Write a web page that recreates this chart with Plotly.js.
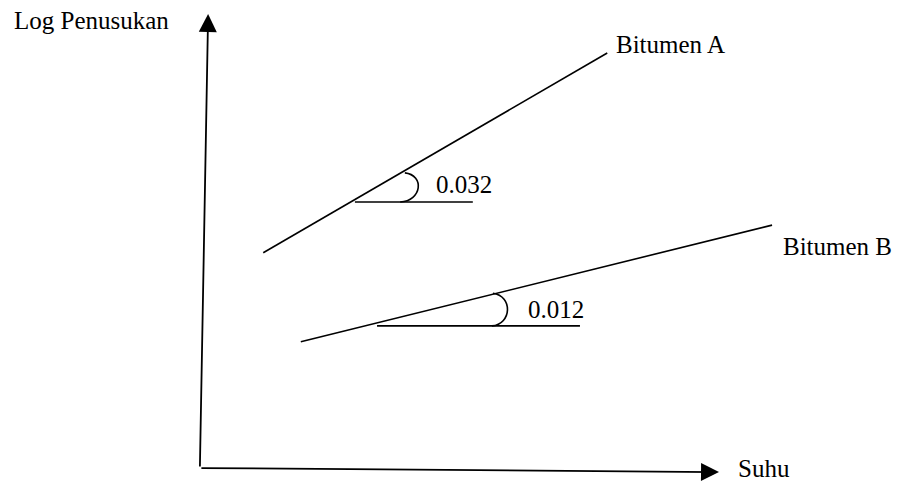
<!DOCTYPE html>
<html>
<head>
<meta charset="utf-8">
<script src="https://cdn.plot.ly/plotly-3.0.1.min.js"></script>
<style>html,body{margin:0;padding:0;background:#fff;}#chart{width:897px;height:483px;}</style>
</head>
<body>
<div id="chart"></div>
<script>
// Schematic data (arbitrary units: origin at axis corner, axes run 0..100)
const yAxisX = [-0.8, 0.8];
const yAxisY = [0, 100];
const xAxisX = [-0.8, 100];
const xAxisY = [0, -0.9];

const bitA_x = [11.5, 78.3];
const bitA_y = [47.4, 91.4];
const bitB_x = [18.8, 110.3];
const bitB_y = [27.8, 53.5];

const baseA_x = [29.3, 52.2];
const baseA_y = [58.6, 58.6];
const baseB_x = [33.6, 73.0];
const baseB_y = [31.3, 31.3];

const arcA_x = [39.0, 42.9, 42.3, 38.1];
const arcA_y = [65.0, 64.5, 58.8, 58.6];
const arcB_x = [56.1, 60.0, 59.8, 55.9];
const arcB_y = [38.5, 37.9, 31.7, 31.3];

const seriesNames = ['Bitumen A', 'Bitumen B'];
const slopeLabels = ['0.032', '0.012'];
const axisTitles = ['Suhu', 'Log Penusukan'];

const FONT = {family: '"Liberation Serif", "Times New Roman", serif', size: 25, color: '#000'};
const lineStyle = {color: '#000', width: 1.6};

const traces = [
  {x: bitA_x, y: bitA_y, mode: 'lines', line: lineStyle, hoverinfo: 'skip'},
  {x: bitB_x, y: bitB_y, mode: 'lines', line: lineStyle, hoverinfo: 'skip'},
  {x: baseA_x, y: baseA_y, mode: 'lines', line: lineStyle, hoverinfo: 'skip'},
  {x: baseB_x, y: baseB_y, mode: 'lines', line: lineStyle, hoverinfo: 'skip'}
];

function arcPath(xs, ys) {
  return `M ${xs[0]},${ys[0]} C ${xs[1]},${ys[1]} ${xs[2]},${ys[2]} ${xs[3]},${ys[3]}`;
}

const shapes = [
  {type: 'path', xref: 'x', yref: 'y', path: arcPath(arcA_x, arcA_y), line: lineStyle},
  {type: 'path', xref: 'x', yref: 'y', path: arcPath(arcB_x, arcB_y), line: lineStyle}
];

function axisArrow(xs, ys) {
  return {x: xs[1], y: ys[1], ax: xs[0], ay: ys[0], xref: 'x', yref: 'y', axref: 'x', ayref: 'y',
          text: '', showarrow: true, arrowhead: 2, arrowsize: 2.0, arrowwidth: 1.8, arrowcolor: '#000', standoff: 0};
}

function label(text, x, y) {
  return {x: x, y: y, xref: 'x', yref: 'y', text: text, showarrow: false, xanchor: 'left', yanchor: 'middle', font: FONT};
}

const annotations = [
  axisArrow(yAxisX, yAxisY),
  axisArrow(xAxisX, xAxisY),
  label(axisTitles[1], -37.3, 98.6),
  label(axisTitles[0], 103.3, -0.2),
  label(seriesNames[0], 79.6, 93.2),
  label(seriesNames[1], 112.0, 48.7),
  label(slopeLabels[0], 44.7, 62.4),
  label(slopeLabels[1], 62.5, 35.0)
];

const layout = {
  width: 897, height: 483,
  margin: {l: 0, r: 0, t: 0, b: 0},
  paper_bgcolor: '#fff', plot_bgcolor: '#fff',
  showlegend: false,
  xaxis: {range: [-39.61, 134.56], visible: false, fixedrange: true},
  yaxis: {range: [-3.30, 103.08], visible: false, fixedrange: true},
  shapes: shapes,
  annotations: annotations,
  font: FONT
};

Plotly.newPlot('chart', traces, layout, {staticPlot: true, displayModeBar: false});
</script>
</body>
</html>
